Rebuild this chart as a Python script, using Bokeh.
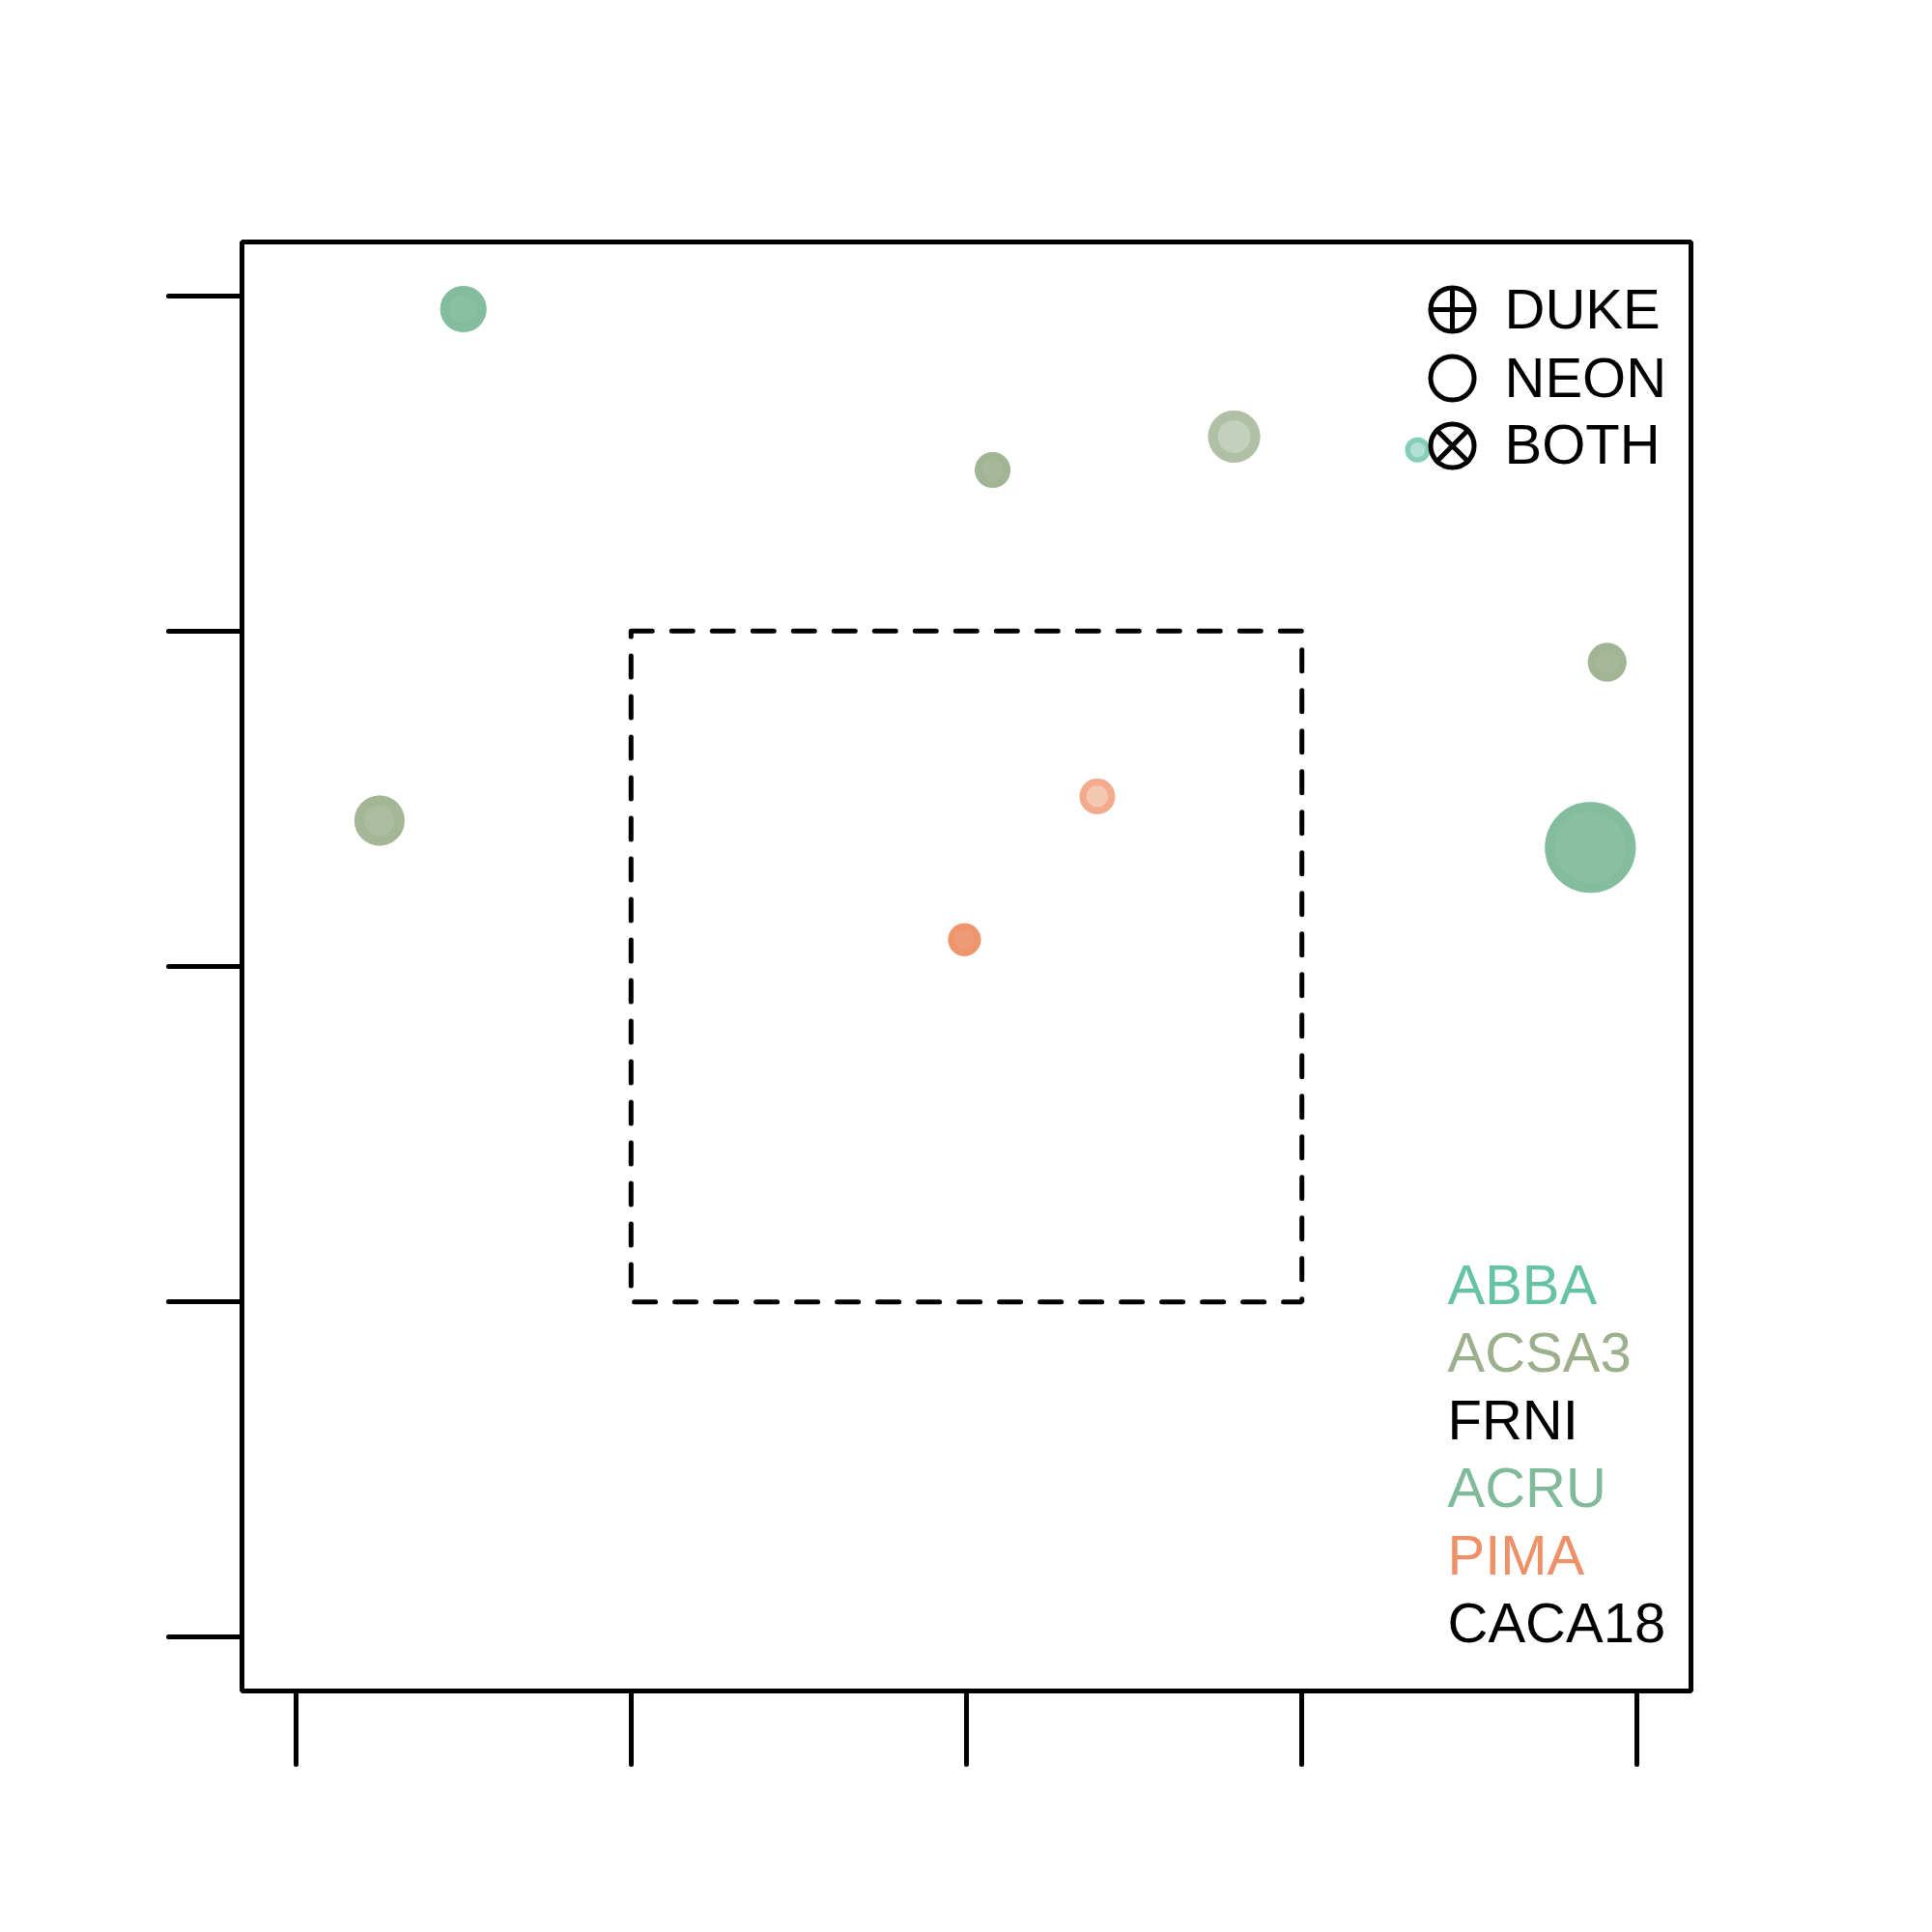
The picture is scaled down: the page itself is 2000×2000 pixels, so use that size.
from bokeh.plotting import figure
from bokeh.models import Range1d, FixedTicker, ColumnDataSource
from bokeh.embed import file_html
from bokeh.resources import INLINE
from bokeh.core.properties import value

# ---- data ----
species = ["ACRU", "ACSA3", "ACSA3", "ABBA", "ACSA3", "ACSA3", "PIMA", "ACRU", "PIMA"]
xs = [-15.0, 0.78, 7.98, 13.45, 19.1, -17.5, 3.9, 18.6, -0.06]
ys = [19.6, 14.8, 15.8, 15.4, 9.07, 4.35, 5.07, 3.55, 0.8]
diam = [48, 37, 54, 26, 40, 52, 37, 94, 34]
fill_alpha = [0.92, 0.9, 0.6, 0.5, 0.9, 0.85, 0.5, 0.92, 0.9]
ring_alpha = [0.55, 0.55, 0.5, 0.6, 0.55, 0.55, 0.5, 0.55, 0.55]

species_labels = ["ABBA", "ACSA3", "FRNI", "ACRU", "PIMA", "CACA18"]
species_colors = ["#66C2A5", "#9CB08E", "#000000", "#80BA9A", "#EE9068", "#000000"]
site_labels = ["DUKE", "NEON", "BOTH"]
ticks = [-20, -10, 0, 10, 20]
box = [-10, 10]

cmap = dict(zip(species_labels, species_colors))

p = figure(output_backend="svg", toolbar_location=None,
           frame_width=1500, frame_height=1500,
           min_border_left=250, min_border_right=234,
           min_border_top=250, min_border_bottom=234,
           x_range=Range1d(-21.6, 21.6), y_range=Range1d(-21.6, 21.6))
p.background_fill_color = "white"
p.border_fill_color = "white"
p.grid.visible = False
p.outline_line_color = "black"
p.outline_line_width = 5

for ax in (p.xaxis[0], p.yaxis[0]):
    ax.ticker = FixedTicker(ticks=ticks)
    ax.axis_line_color = None
    ax.major_tick_out = 76
    ax.major_tick_in = 0
    ax.major_tick_line_width = 5
    ax.major_tick_line_cap = "round"
    ax.major_tick_line_color = "black"
    ax.minor_tick_line_color = None
    ax.major_label_text_font_size = "0px"
    ax.major_label_text_color = None

# dashed square
p.line([box[0], box[1], box[1], box[0], box[0]],
       [box[1], box[1], box[0], box[0], box[1]],
       line_color="black", line_width=5, line_dash="22 20", line_cap="round")

# points: filled disc plus a denser ring near the rim
cols = [cmap[s] for s in species]
ring_w = [min(0.2 * d, 10) for d in diam]
src = ColumnDataSource(dict(x=xs, y=ys, size=diam,
                            ring_size=[d - w for d, w in zip(diam, ring_w)],
                            rw=ring_w, color=cols, fa=fill_alpha, ra=ring_alpha))
p.scatter("x", "y", size="size", marker="circle", source=src,
          fill_color="color", fill_alpha="fa", line_color=None)
p.scatter("x", "y", size="ring_size", marker="circle", source=src,
          fill_color=None, line_color="color", line_alpha="ra", line_width="rw")

# site legend (top right)
def sx(v):
    return (v - 1000) / 1500 * 43.2

def sy(v):
    return (1000 - v) / 1500 * 43.2

shift = 23
lx_sym = sx(1503)
lx_txt = sx(1557)
site_sym_y = [sy(v) for v in (320, 391, 461)]
site_txt_y = [sy(v - shift) for v in (342, 413, 482)]
p.scatter([lx_sym] * 3, site_sym_y, marker="circle", size=45,
          fill_color=None, line_color="black", line_width=5)
p.scatter([lx_sym], [site_sym_y[0]], marker="cross", size=45,
          line_color="black", line_width=5)
p.scatter([lx_sym], [site_sym_y[2]], marker="x", size=50,
          line_color="black", line_width=5)
p.text([lx_txt] * 3, site_txt_y, text=site_labels,
       text_font=value("Liberation Sans"), text_font_size="58px",
       text_baseline="alphabetic", text_align="left", text_color="black")

# species legend (bottom right)
sp_x = sx(1498)
sp_y = [sy(v - shift) for v in (1352, 1422, 1492, 1562, 1632, 1702)]
p.text([sp_x] * 6, sp_y, text=species_labels, text_color=species_colors,
       text_font=value("Liberation Sans"), text_font_size="58px",
       text_baseline="alphabetic", text_align="left")

open("out.html", "w").write(file_html(p, INLINE))
